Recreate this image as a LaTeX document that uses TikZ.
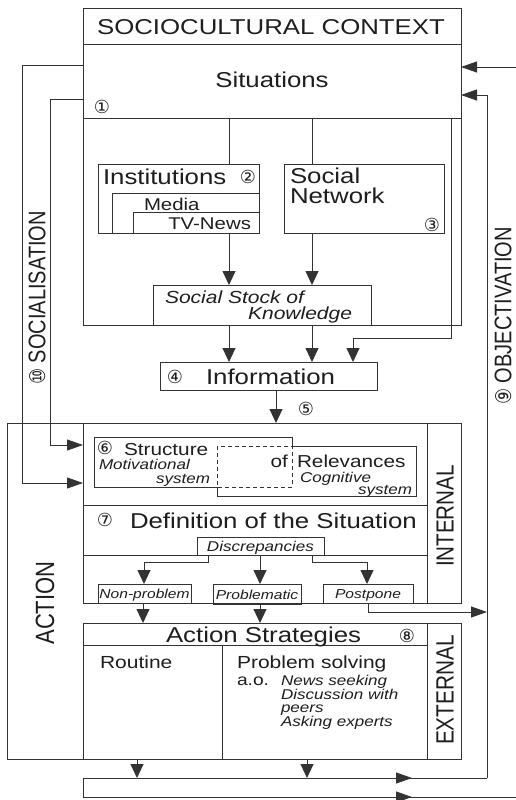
\documentclass[tikz,border=0pt]{standalone}
\usepackage{fontspec}
\setmainfont{Liberation Sans}[FakeStretch=1.2]
\newfontfamily\rotfont{Liberation Sans}
\newfontfamily\circfont{DejaVu Sans}
\usetikzlibrary{arrows.meta}
\definecolor{lc}{HTML}{333333}
\definecolor{tc}{HTML}{1e1e1e}
\newcommand{\myfs}[1]{\fontsize{#1}{#1}\selectfont}
\newcommand{\cnum}[1]{{\circfont\fontsize{18}{18}\selectfont #1}}
\newcommand{\rtext}[2]{\scalebox{1}[1.2]{\rotfont\fontsize{#1}{#1}\selectfont #2}}
\tikzset{
  every node/.style={inner sep=0pt, outer sep=0pt, text=tc},
  ln/.style={draw=lc, line width=0.9pt},
  bx/.style={draw=lc, line width=0.9pt, rectangle},
  varr/.style={-{Triangle[length=14pt,width=13pt]}},
  harr/.style={-{Triangle[length=16pt,width=11pt]}},
  L/.style={font=\myfs{21.5}},
  M/.style={font=\myfs{17.3}},
  MI/.style={font=\myfs{17.5}\itshape},
  SI/.style={font=\myfs{14.2}\itshape},
  XI/.style={font=\myfs{13}\itshape},
  cn/.style={anchor=center},
}
\newcommand{\boxnode}[5]{\node[bx, minimum width={(#4-#2)*1pt}, minimum height={(#5-#3)*1pt}] (#1) at ({(#2+#4)/2},{(#3+#5)/2}) {};}
\begin{document}
\begin{tikzpicture}[x=1pt,y=-1pt]
\fill[white] (0,0) rectangle (516,800);
\useasboundingbox (0,0) rectangle (516,800);

% ---------- Sociocultural context ----------
\boxnode{sc}{83}{8}{461}{325}
\draw[ln] (83,44) -- (461,44);
\draw[ln] (83,118) -- (461,118);
\node[L, anchor=base] (title) at (271,35) {SOCIOCULTURAL CONTEXT};
\node[L, anchor=base] (sit) at (272,88) {Situations};
\node[cn] (n1) at (102,107) {\cnum{①}};

\boxnode{inst}{98}{164}{259}{233}
\draw[ln] (112,233) -- (112,193) -- (259,193);
\draw[ln] (133,233) -- (133,212) -- (259,212);
\node[L, anchor=base west] (instt) at (103,184) {Institutions};
\node[cn] (n2) at (248,177) {\cnum{②}};
\node[font=\myfs{17}, anchor=base west] (media) at (144,210) {Media};
\node[font=\myfs{17}, anchor=base east] (tv) at (251,229) {TV-News};

\boxnode{sn}{284}{164}{444}{233}
\node[L, anchor=base west] (snt1) at (290,183) {Social};
\node[L, anchor=base west] (snt2) at (290,203) {Network};
\node[cn] (n3) at (432,225) {\cnum{③}};

\boxnode{sss}{153}{285}{371}{325}
\node[MI, anchor=base west] (ss1) at (165,303) {Social Stock of};
\node[MI, anchor=base east] (ss2) at (352,319) {Knowledge};

\boxnode{info}{160}{362}{377}{390}
\node[cn] (n4) at (175,377) {\cnum{④}};
\node[L, anchor=base west] (infot) at (206,384) {Information};
\node[cn] (n5) at (306,409) {\cnum{⑤}};

% connectors top
\coordinate (a1) at (229,118); \coordinate (a2) at (312,118);
\draw[ln] (a1) -- (229,164);
\draw[ln] (a2) -- (312,164);
\draw[ln,varr] (229,233) -- (229,285);
\draw[ln,varr] (312,233) -- (312,285);
\draw[ln,varr] (229,325) -- (229,362);
\draw[ln,varr] (312,325) -- (312,362);
\draw[ln,varr] (451,118) -- (451,338) -- (353,338) -- (353,362);
\draw[ln,varr] (276,390) -- (276,423);

% ---------- Action ----------
\boxnode{int}{83}{423}{461}{603}
\draw[ln] (427,423) -- (427,603);
\draw[ln] (83,423) -- (7,423) -- (7,759) -- (83,759);
\node[rotate=90] (intt) at (445,516) {\rtext{20.6}{INTERNAL}};
\node[rotate=90] (actt) at (45,603) {\rtext{22}{ACTION}};

% structure of relevances
\draw[ln] (94,437) -- (292,437) -- (292,446) -- (416,446) -- (416,496) -- (217,496) -- (217,487) -- (94,487) -- cycle;
\draw[ln, dash pattern=on 4pt off 3pt] (217,446) rectangle (292,487);
\node[cn] (n6) at (105,447.5) {\cnum{⑥}};
\node[M, anchor=base west] (str) at (124,455) {Structure};
\node[SI, anchor=base west] (mot) at (99,469) {Motivational};
\node[SI, anchor=base east] (sys1) at (210,483) {system};
\node[M, anchor=base east] (of) at (288,467) {of};
\node[M, anchor=base west] (rel) at (297,467) {Relevances};
\node[SI, anchor=base west] (cog) at (300,482) {Cognitive};
\node[SI, anchor=base east] (sys2) at (412,494) {system};

\draw[ln] (83,505) -- (427,505);
\node[cn] (n7) at (105,520) {\cnum{⑦}};
\node[L, anchor=base west] (def) at (130,528) {Definition of the Situation};
\draw[ln] (83,555) -- (427,555);

\boxnode{disc}{197}{537}{324}{555}
\node[SI, anchor=base] (disct) at (260.5,551) {Discrepancies};
\boxnode{np}{98}{584}{191}{603}
\node[XI, anchor=base] (npt) at (144.5,598) {Non-problem};
\boxnode{prob}{213}{584}{301}{604}
\node[XI, anchor=base] (probt) at (257,599) {Problematic};
\boxnode{pp}{323}{584}{413}{603}
\node[XI, anchor=base] (ppt) at (368,598) {Postpone};

\draw[ln,varr] (208,555) -- (208,562) -- (144,562) -- (144,584);
\draw[ln,varr] (260,555) -- (260,584);
\draw[ln,varr] (312,555) -- (312,562) -- (367,562) -- (367,584);
\draw[ln,varr] (143,603) -- (143,623);
\draw[ln,varr] (260,604) -- (260,623);
\draw[ln,harr] (368,603) -- (368,612) -- (487,612);

% external
\boxnode{ext}{83}{623}{461}{759}
\draw[ln] (427,623) -- (427,759);
\draw[ln] (83,645) -- (427,645);
\draw[ln] (222,645) -- (222,759);
\node[rotate=90] (extt) at (445,690) {\rtext{20.8}{EXTERNAL}};
\node[L, anchor=base west] (as) at (166,642) {Action Strategies};
\node[cn] (n8) at (407,636) {\cnum{⑧}};
\node[font=\myfs{17.5}, anchor=base west] (rout) at (100,668) {Routine};
\node[font=\myfs{17.5}, anchor=base west] (ps) at (237,668) {Problem solving};
\node[font=\myfs{16}, anchor=base west] (ao) at (237,685) {a.o.};
\node[SI, anchor=base west] (ps1) at (281,685) {News seeking};
\node[SI, anchor=base west] (ps2) at (281,699) {Discussion with};
\node[SI, anchor=base west] (ps3) at (281,712) {peers};
\node[SI, anchor=base west] (ps4) at (281,726) {Asking experts};

% bottom return bar
\draw[ln,varr] (137,759) -- (137,778);
\draw[ln,varr] (307,759) -- (307,778);
\draw[ln] (487,778) -- (83,778) -- (83,797) -- (516,797);
\draw[ln,harr] (83,778) -- (412,778);
\draw[ln,harr] (83,797) -- (412,797);

% socialisation
\draw[ln,harr] (83,65) -- (22,65) -- (22,483) -- (83,483);
\draw[ln,harr] (83,99) -- (50,99) -- (50,445) -- (83,445);
\node[rotate=90] (soc) at (37,298) {\rtext{20}{\cnum{⑩}\ SOCIALISATION}};

% objectivation
\coordinate (edge) at (516,67);
\draw[ln,harr] (edge) -- (461,67);
\draw[ln,harr] (487,778) -- (487,95) -- (461,95);
\node[rotate=90] (obj) at (503,316) {\rtext{20}{\cnum{⑨}\ OBJECTIVATION}};
\end{tikzpicture}
\end{document}
